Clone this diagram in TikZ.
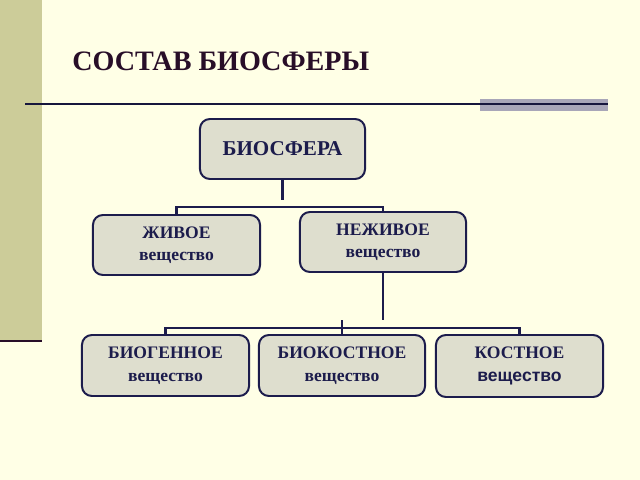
\documentclass[tikz,border=0pt]{standalone}
\usepackage{fontspec}
\setmainfont{Liberation Serif}
\newfontfamily\arialfont{Liberation Sans}
\definecolor{bgcream}{RGB}{255,255,230}
\definecolor{bandolive}{RGB}{204,204,153}
\definecolor{boxfill}{RGB}{222,222,206}
\definecolor{boxline}{RGB}{28,28,76}
\definecolor{titlecol}{RGB}{40,14,40}
\definecolor{bargray}{RGB}{168,166,184}
\tikzset{
  box/.style={draw=boxline, fill=boxfill, line width=1.4pt, rounded corners=7pt,
    align=center, text=boxline, font=\bfseries\fontsize{12.5}{16}\selectfont, inner sep=0pt},
  conn/.style={draw=boxline, line width=2pt}
}
\begin{document}
\begin{tikzpicture}[x=0.025cm, y=-0.025cm]
  \fill[bgcream] (0,0) rectangle (640,480);
  \useasboundingbox (0,0) rectangle (640,480);
  % left band
  \fill[bandolive] (0,0) rectangle (42,340);
  \fill[titlecol] (0,340) rectangle (42,342);
  % title and rule
  \node[anchor=west, text=titlecol, font=\bfseries\fontsize{20}{24}\selectfont, inner sep=0pt] (title) at (72,61) {СОСТАВ БИОСФЕРЫ};
  \fill[bargray] (480,99) rectangle (608,111);
  \draw[line width=1.2pt, draw=boxline!80!black] (25,104) -- (608,104);

  \node[box, minimum width=4.125cm, minimum height=1.5cm, font=\bfseries\fontsize{15}{18}\selectfont] (bio) at (282.5,149) {БИОСФЕРА};
  \node[box, minimum width=4.175cm, minimum height=1.5cm] (zhiv) at (176.5,245) {ЖИВОЕ\\вещество};
  \node[box, minimum width=4.15cm, minimum height=1.5cm] (nezhiv) at (383,242) {НЕЖИВОЕ\\вещество};
  \node[box, minimum width=4.175cm, minimum height=1.525cm] (biogen) at (165.5,365.5) {БИОГЕННОЕ\\вещество};
  \node[box, minimum width=4.15cm, minimum height=1.525cm] (biokost) at (342,365.5) {БИОКОСТНОЕ\\вещество};
  \node[box, minimum width=4.175cm, minimum height=1.55cm] (kost) at (519.5,366) {КОСТНОЕ\\{\arialfont вещество}};

  % connectors
  \draw[conn] (bio.south) -- ++(0,20);
  \draw[conn] (zhiv.north) |- (283,207) -| (nezhiv.north);
  \draw[conn] (nezhiv.south) -- ++(0,47);
  \draw[conn] (biogen.north) |- (342,328) -| (kost.north);
  \draw[conn] (biokost.north) -- ++(0,-14);
\end{tikzpicture}
\end{document}
